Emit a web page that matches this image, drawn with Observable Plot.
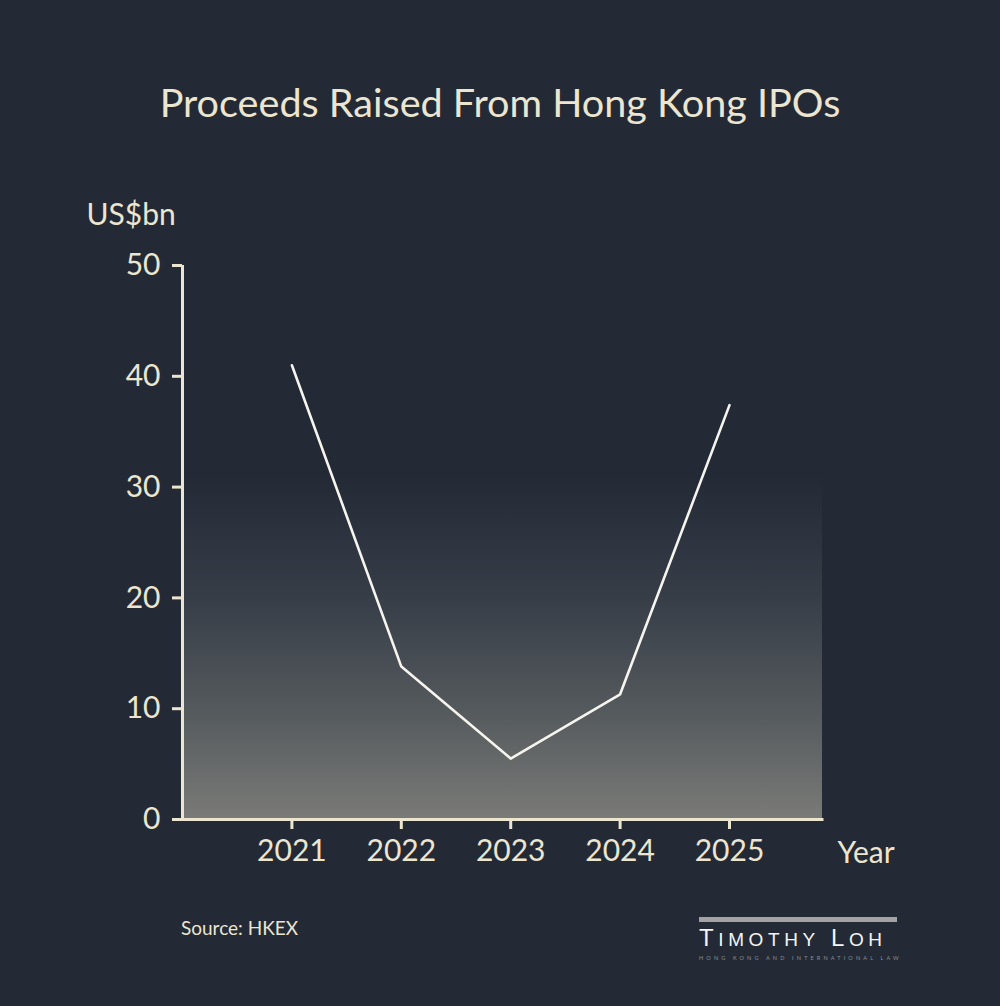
<!DOCTYPE html>
<html>
<head>
<meta charset="utf-8">
<script src="https://cdn.jsdelivr.net/npm/d3@7"></script>
<script src="https://cdn.jsdelivr.net/npm/@observablehq/plot@0.6"></script>
<style>
  html, body { margin: 0; padding: 0; background: #232a36; }
  body { width: 1000px; height: 1006px; position: relative; overflow: hidden; font-family: Lato, "Open Sans", sans-serif; }
  #title { position: absolute; top: 78px; left: 0; width: 1000px; text-align: center; color: #ece5cf; font-size: 39.6px; font-family: Lato, sans-serif; }
  #chart { position: absolute; top: 180px; left: 0; }
  #source { position: absolute; top: 916px; left: 181px; color: #ece5cf; font-size: 19px; }
  #brand { position: absolute; top: 917px; left: 699px; width: 198px; }
  #brand .bar { height: 5px; background: #a3a3a3; }
  #brand .name { color: #f4f4f4; font-family: "Liberation Sans", sans-serif; font-size: 24px; letter-spacing: 4.6px; margin-top: 6px; line-height: 20px; white-space: nowrap; }
  #brand .name small { font-size: 19px; }
  #brand .tag { color: #8d8f93; font-size: 5.5px; letter-spacing: 3.15px; margin-top: 5px; white-space: nowrap; }
</style>
</head>
<body>
<div id="title">Proceeds Raised From Hong Kong IPOs</div>
<div id="chart"></div>
<div id="source">Source: HKEX</div>
<div id="brand">
  <div class="bar"></div>
  <div class="name">T<small>IMOTHY</small> L<small>OH</small></div>
  <div class="tag">HONG KONG AND INTERNATIONAL LAW</div>
</div>
<script>
// Annual IPO proceeds on the Hong Kong exchange, US$ billions
const years = [2021, 2022, 2023, 2024, 2025];
const proceeds = [41.0, 13.8, 5.5, 11.3, 37.4];
const yTicks = [0, 10, 20, 30, 40, 50];
const xDomain = [2020, 2025.85];
const yDomain = [0, 50];
const shadeTop = 31; // upper edge of the shaded backdrop, in US$bn

const data = years.map((year, i) => ({year, value: proceeds[i]}));
const cream = "#ece5cf";

const plot = Plot.plot({
  width: 1000,
  height: 760,
  marginTop: 85,
  marginBottom: 121,
  marginLeft: 182,
  marginRight: 178,
  style: {background: "transparent", color: cream, fontFamily: "Lato, sans-serif", fontSize: "30px"},
  x: {domain: xDomain},
  y: {domain: yDomain},
  marks: [
    Plot.rect([{x1: xDomain[0], x2: xDomain[1], y1: 0, y2: shadeTop}], {
      x1: "x1", x2: "x2", y1: "y1", y2: "y2", fill: "url(#area-fade)"
    }),
    Plot.axisY({ticks: yTicks, tickSize: 10, tickPadding: 12, label: null, stroke: cream, strokeWidth: 3, fill: cream}),
    Plot.axisX({ticks: years, tickFormat: d => String(d), tickSize: 10, tickPadding: 10, label: null, stroke: cream, strokeWidth: 3, fill: cream}),
    Plot.ruleX([xDomain[0]], {y1: yDomain[0], y2: yDomain[1], stroke: cream, strokeWidth: 3}),
    Plot.ruleY([0], {x1: xDomain[0], x2: xDomain[1], stroke: cream, strokeWidth: 3, strokeLinecap: "square"}),
    Plot.line(data, {x: "year", y: "value", stroke: "#f6f4ee", strokeWidth: 2.6}),
    Plot.text(["US$bn"], {frameAnchor: "top-left", textAnchor: "start", lineAnchor: "middle", dx: -96, dy: -50, fill: cream, fontSize: 30}),
    Plot.text(["Year"], {frameAnchor: "bottom-right", textAnchor: "start", lineAnchor: "middle", dx: 15, dy: 34, fill: cream, fontSize: 30})
  ]
});

// vertical fade used by the backdrop rectangle
const ns = "http://www.w3.org/2000/svg";
const defs = document.createElementNS(ns, "defs");
const grad = document.createElementNS(ns, "linearGradient");
grad.setAttribute("id", "area-fade");
grad.setAttribute("x1", "0"); grad.setAttribute("y1", "0");
grad.setAttribute("x2", "0"); grad.setAttribute("y2", "1");
[["0", "#232a36"], ["0.35", "#363d47"], ["0.7", "#565b5e"], ["1", "#7a7b78"]].forEach(([o, c]) => {
  const s = document.createElementNS(ns, "stop");
  s.setAttribute("offset", o);
  s.setAttribute("stop-color", c);
  grad.appendChild(s);
});
defs.appendChild(grad);
plot.insertBefore(defs, plot.firstChild);

document.getElementById("chart").appendChild(plot);
</script>
</body>
</html>
